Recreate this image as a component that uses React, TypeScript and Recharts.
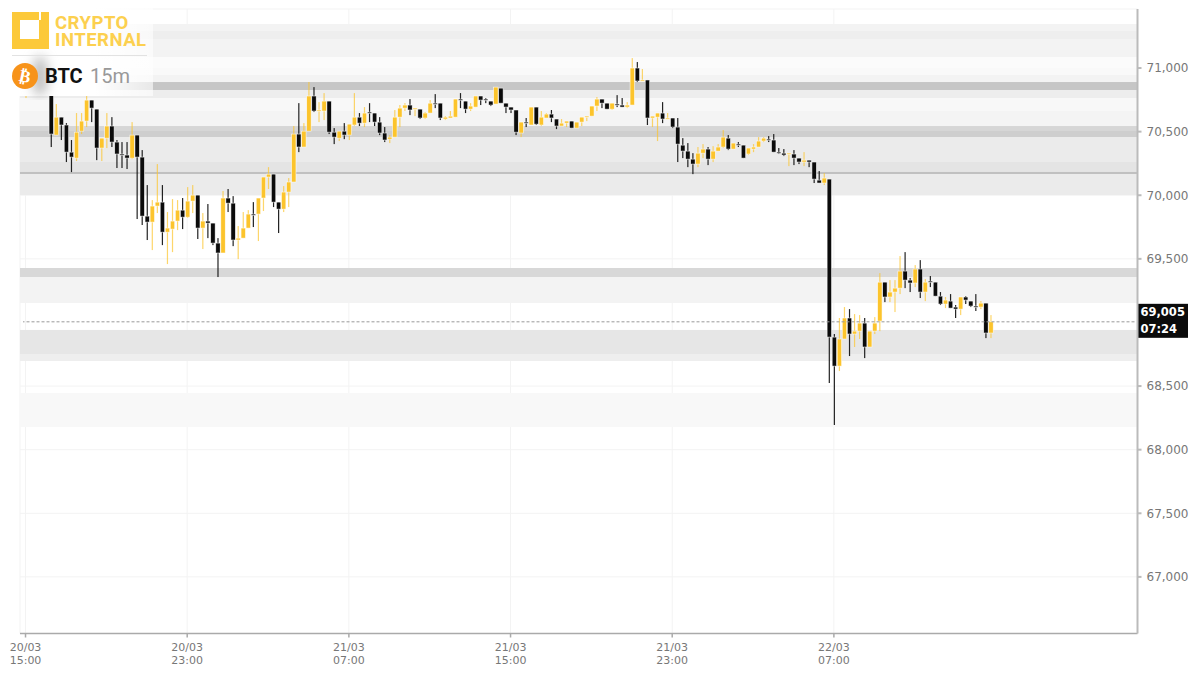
import React from 'react';
import { ComposedChart, Bar, XAxis, YAxis, CartesianGrid, ReferenceArea, ReferenceLine } from 'recharts';

// BTC 15m candles (the first five sit behind the logo panel)
const opens = [
  70811, 70858, 70842, 70858, 70890, 70921, 70473, 70614, 70552, 70339,
  70292, 70504, 70583, 70748, 70677, 70371, 70449, 70544, 70418, 70324,
  70316, 70292, 70473, 70300, 69836, 69789, 69915, 69946, 69710, 69734,
  69797, 69883, 69828, 69954, 70001, 69742, 69797, 69781, 69624, 69546,
  69978, 69938, 69648, 69663, 69742, 69852, 69852, 69978, 70143, 70166,
  69946, 69891, 70025, 70104, 70481, 70379, 70504, 70780, 70662, 70662,
  70740, 70496, 70449, 70504, 70473, 70552, 70614, 70567, 70654, 70646,
  70575, 70489, 70441, 70457, 70614, 70685, 70709, 70677, 70677, 70607,
  70646, 70724, 70724, 70599, 70607, 70614, 70756, 70740, 70677, 70693,
  70780, 70756, 70740, 70717, 70842, 70724, 70693, 70670, 70489, 70575,
  70552, 70693, 70552, 70607, 70638, 70599, 70544, 70567, 70583, 70528,
  70575, 70614, 70622, 70701, 70756, 70724, 70677, 70717, 70709, 70693,
  70709, 71000, 70898, 70906, 70607, 70614, 70646, 70599, 70607, 70536,
  70394, 70347, 70284, 70245, 70331, 70363, 70284, 70347, 70379, 70449,
  70363, 70402, 70394, 70324, 70363, 70379, 70426, 70441, 70434, 70339,
  70331, 70324, 70324, 70292, 70261, 70276, 70261, 70119, 70096, 70127,
  68885, 68657, 68870, 69035, 68909, 68932, 68995, 68807, 68932, 69011,
  69317, 69200, 69239, 69270, 69404, 69333, 69310, 69420, 69239, 69325,
  69317, 69207, 69145, 69168, 69121, 69105, 69200, 69168, 69129, 69121,
  69152, 68917,
];
const highs = [
  70874, 70874, 70906, 70937, 70984, 70952, 70717, 70614, 70567, 70434,
  70646, 70646, 70780, 70748, 70677, 70449, 70646, 70614, 70434, 70418,
  70418, 70575, 70473, 70355, 70080, 69962, 70245, 70080, 69868, 69970,
  69962, 69978, 70064, 70080, 70001, 69860, 69931, 69781, 69663, 70033,
  70049, 69993, 69758, 69868, 69883, 69946, 69978, 70143, 70221, 70166,
  69946, 70072, 70135, 70544, 70724, 70567, 70890, 70850, 70732, 70803,
  70740, 70528, 70504, 70567, 70559, 70803, 70646, 70693, 70724, 70646,
  70614, 70536, 70473, 70670, 70709, 70724, 70756, 70685, 70677, 70654,
  70748, 70795, 70724, 70622, 70662, 70756, 70803, 70740, 70724, 70780,
  70780, 70764, 70740, 70850, 70842, 70724, 70693, 70670, 70575, 70607,
  70693, 70693, 70662, 70646, 70670, 70599, 70599, 70583, 70583, 70575,
  70614, 70622, 70701, 70772, 70756, 70724, 70724, 70787, 70764, 70732,
  71078, 71047, 70992, 70906, 70622, 70646, 70732, 70646, 70607, 70607,
  70449, 70410, 70331, 70379, 70402, 70379, 70386, 70402, 70512, 70473,
  70410, 70418, 70394, 70371, 70402, 70457, 70457, 70465, 70481, 70371,
  70363, 70331, 70355, 70292, 70339, 70276, 70261, 70190, 70174, 70127,
  68909, 69035, 69121, 69105, 69066, 69058, 69035, 68932, 69042, 69388,
  69317, 69333, 69333, 69522, 69553, 69349, 69451, 69490, 69341, 69365,
  69317, 69239, 69200, 69223, 69137, 69200, 69207, 69168, 69223, 69168,
  69152, 69058,
];
const lows = [
  70764, 70811, 70811, 70827, 70842, 70379, 70473, 70434, 70261, 70182,
  70269, 70481, 70536, 70575, 70276, 70269, 70371, 70379, 70214, 70214,
  70206, 70284, 69813, 69766, 69648, 69569, 69860, 69608, 69459, 69553,
  69726, 69734, 69821, 69860, 69656, 69577, 69663, 69608, 69357, 69546,
  69868, 69600, 69498, 69663, 69742, 69750, 69640, 69876, 70049, 69907,
  69703, 69868, 69907, 70104, 70339, 70379, 70504, 70654, 70575, 70591,
  70481, 70402, 70426, 70441, 70434, 70544, 70544, 70536, 70575, 70544,
  70473, 70418, 70410, 70457, 70536, 70662, 70630, 70622, 70599, 70599,
  70646, 70685, 70591, 70591, 70607, 70614, 70685, 70646, 70662, 70693,
  70709, 70724, 70701, 70717, 70724, 70646, 70646, 70473, 70457, 70536,
  70552, 70552, 70544, 70607, 70575, 70520, 70544, 70536, 70528, 70528,
  70544, 70583, 70622, 70662, 70685, 70677, 70670, 70693, 70693, 70685,
  70709, 70890, 70898, 70552, 70536, 70426, 70567, 70599, 70528, 70261,
  70292, 70221, 70166, 70221, 70292, 70237, 70261, 70347, 70371, 70355,
  70363, 70379, 70292, 70316, 70339, 70379, 70418, 70418, 70339, 70324,
  70308, 70229, 70237, 70245, 70229, 70221, 70096, 70096, 70080, 68524,
  68194, 68618, 68870, 68736, 68807, 68870, 68720, 68807, 68909, 68932,
  69160, 69160, 69082, 69223, 69270, 69239, 69278, 69192, 69168, 69278,
  69207, 69137, 69113, 69113, 69035, 69058, 69145, 69121, 69090, 69105,
  68877, 68877,
];
const closes = [
  70842, 70827, 70874, 70906, 70952, 70481, 70614, 70552, 70339, 70300,
  70496, 70583, 70748, 70685, 70371, 70449, 70544, 70418, 70324, 70316,
  70292, 70473, 70300, 69836, 69789, 69915, 69946, 69710, 69742, 69797,
  69883, 69828, 69954, 70001, 69742, 69797, 69781, 69624, 69546, 69978,
  69938, 69648, 69663, 69742, 69852, 69844, 69978, 70143, 70166, 69946,
  69891, 70025, 70104, 70481, 70379, 70504, 70780, 70662, 70670, 70740,
  70496, 70457, 70504, 70473, 70559, 70614, 70567, 70646, 70646, 70575,
  70489, 70434, 70457, 70614, 70685, 70709, 70670, 70685, 70607, 70646,
  70724, 70717, 70607, 70614, 70622, 70756, 70748, 70677, 70701, 70780,
  70748, 70748, 70709, 70850, 70724, 70693, 70670, 70496, 70575, 70567,
  70693, 70559, 70614, 70638, 70607, 70544, 70567, 70583, 70528, 70575,
  70614, 70622, 70701, 70756, 70724, 70677, 70724, 70709, 70693, 70709,
  71000, 70898, 70906, 70607, 70622, 70646, 70599, 70607, 70536, 70402,
  70347, 70284, 70245, 70331, 70363, 70284, 70347, 70379, 70457, 70363,
  70410, 70394, 70292, 70371, 70379, 70426, 70449, 70434, 70339, 70331,
  70316, 70331, 70292, 70261, 70276, 70261, 70127, 70096, 70135, 68885,
  68657, 68870, 69035, 68909, 68932, 68995, 68807, 68932, 68995, 69317,
  69200, 69239, 69270, 69404, 69333, 69310, 69420, 69239, 69317, 69317,
  69207, 69145, 69176, 69113, 69105, 69200, 69176, 69129, 69121, 69152,
  68917, 69005,
];

// 69,000 sits under the price tag in the picture, so it gets no label
const priceTicks = [67000, 67500, 68000, 68500, 69500, 70000, 70500, 71000];
const timeTicks = ['20/03 15:00', '20/03 23:00', '21/03 07:00', '21/03 15:00', '21/03 23:00', '22/03 07:00'];

// support / resistance zones, price from and to
const zoneHighs = [71346, 71291, 71228, 71086, 71000, 70945, 70890, 70827, 70764, 70662, 70544, 70505, 70458, 70261, 70183, 70167, 69428, 69357, 68941, 68752, 68445];
const zoneLows = [71291, 71228, 71086, 71000, 70945, 70890, 70827, 70764, 70662, 70544, 70505, 70458, 70261, 70183, 70167, 70002, 69357, 69153, 68752, 68697, 68178];
const zoneFills = ['#f3f3f3', '#eeeeee', '#f3f3f3', '#fbfbfb', '#f9f9f9', '#f3f3f3', '#c6c6c6', '#ededed', '#f8f8f8', '#f4f4f4', '#d6d6d6', '#cecece', '#ebebeb', '#e4e4e4', '#c0c0c0', '#ebebeb', '#d8d8d8', '#f3f3f3', '#e6e6e6', '#eeeeee', '#f8f8f8'];

const lastPrice = 69005;
const countdown = '07:24';
const SLOTS = 220; // 15m slots on the time axis, the last ones are still empty
const AXIS_PAD = 3;

const UP = '#fcc42c';
const DOWN = '#0b0b0b';

function slotLabel(i: number): string {
  const minutes = 15 * 60 + i * 15;
  const day = 20 + Math.floor(minutes / 1440);
  const h = Math.floor(minutes / 60) % 24;
  const m = minutes % 60;
  return `${day}/03 ${String(h).padStart(2, '0')}:${String(m).padStart(2, '0')}`;
}

const rows = Array.from({ length: SLOTS }, (_, i) => ({
  time: slotLabel(i),
  open: opens[i],
  high: highs[i],
  low: lows[i],
  close: closes[i],
}));

function Candle(props: any) {
  const { x, y, width, height, payload } = props;
  if (payload.high === undefined) return null;
  const top = Math.min(y, y + height);
  const span = Math.abs(height);
  const perPrice = span / (payload.high - payload.low || 1);
  const up = payload.close >= payload.open;
  const color = up ? UP : DOWN;
  const bodyTop = top + (payload.high - Math.max(payload.open, payload.close)) * perPrice;
  const bodyH = Math.max(Math.abs(payload.close - payload.open) * perPrice, 1.2);
  const cx = x + width / 2;
  return (
    <g>
      <rect x={cx - 0.6} y={top} width={1.2} height={span} fill={color} fillOpacity={up ? 0.7 : 0.9} />
      <rect x={cx - 2.2} y={bodyTop} width={4.4} height={bodyH} fill={color} stroke="#fff" strokeWidth={0.6} strokeOpacity={0.85} />
    </g>
  );
}

// zones and the price line run past the axis padding, edge to edge of the plot
function ZoneRect({ x, y, width, height, fill }: any) {
  return <rect x={x - AXIS_PAD} y={y} width={width + AXIS_PAD * 2} height={height} fill={fill} />;
}

function PriceLine({ x1, y1, x2, y2 }: any) {
  return <line x1={x1 - AXIS_PAD} y1={y1} x2={x2 + AXIS_PAD} y2={y2} stroke="#999" strokeDasharray="3 2" />;
}

function TimeTick({ x, y, payload }: any) {
  const [date, time] = String(payload.value).split(' ');
  return (
    <text x={x} y={y} textAnchor="middle" fontFamily="DejaVu Sans" fontSize={11} fill="#777">
      <tspan x={x} dy={11}>{date}</tspan>
      <tspan x={x} dy={13}>{time}</tspan>
    </text>
  );
}

function PriceTag({ viewBox }: any) {
  const left = viewBox.x + viewBox.width;
  const mid = viewBox.y;
  return (
    <g fontFamily="DejaVu Sans" fontWeight="bold" fontSize={11.5} fill="#fff">
      <rect x={left - 0.5} y={mid - 18} width={51} height={34} fill="#0b0b0b" />
      <text>
        <tspan x={left + 3} y={mid - 5.5}>{lastPrice.toLocaleString('en-US')}</tspan>
        <tspan x={left + 3} y={mid + 11.5}>{countdown}</tspan>
      </text>
    </g>
  );
}

function Logo() {
  return (
    <svg width={160} height={100} style={{ position: 'absolute', left: 0, top: 0 }}>
      <defs>
        <linearGradient id="panelFade" x1="0" y1="0" x2="1" y2="0">
          <stop offset="0%" stopColor="#fff" stopOpacity={1} />
          <stop offset="62%" stopColor="#fff" stopOpacity={1} />
          <stop offset="100%" stopColor="#fff" stopOpacity={0.6} />
        </linearGradient>
      </defs>
      <rect x={0} y={0} width={153} height={96} fill="url(#panelFade)" />
      <ellipse cx={40} cy={76} rx={8} ry={20} fill="#888" fillOpacity={0.55} style={{ filter: 'blur(6px)' }} />
      <path d="M12 12H39V20H20V39H39V20H41V12H49V49H12Z" fill="#fcc93a" fillRule="evenodd" />
      <text fontFamily="Roboto" fontWeight="bold" fontSize={18.5} fill="#fcd04f" letterSpacing={0.5}>
        <tspan x={55} y={28.5}>CRYPTO</tspan>
        <tspan x={55} y={45.5}>INTERNAL</tspan>
      </text>
      <rect x={12} y={55} width={135} height={1} fill="#e2e2e2" />
      <circle cx={25} cy={76} r={13} fill="#f7931a" />
      <text x={25} y={82} textAnchor="middle" fontFamily="DejaVu Sans" fontWeight="bold" fontSize={17} fill="#fff" transform="rotate(12 25 76)">₿</text>
      <text x={45} y={83} fontFamily="Roboto" fontWeight="bold" fontSize={20} fill="#111">BTC</text>
      <text x={90} y={83} fontFamily="Roboto" fontSize={20} fill="#999">15m</text>
    </svg>
  );
}

export default function App() {
  return (
    <div style={{ position: 'absolute', left: 0, top: 0, width: 1200, height: 677, background: '#fff', overflow: 'hidden' }}>
      <ComposedChart width={1200} height={677} data={rows} margin={{ top: 9, right: 0, bottom: 0, left: 20 }}>
        {zoneHighs.map((h, i) => (
          <ReferenceArea key={i} y1={zoneLows[i]} y2={h} fill={zoneFills[i]} fillOpacity={1} stroke="none" shape={<ZoneRect />} />
        ))}
        <CartesianGrid stroke="#f3f3f3" strokeWidth={1} />
        <XAxis
          dataKey="time"
          ticks={timeTicks}
          interval={0}
          height={43.5}
          padding={{ left: AXIS_PAD, right: AXIS_PAD }}
          tick={<TimeTick />}
          tickSize={4}
          stroke="#aaa"
          strokeWidth={1.5}
        />
        <YAxis
          orientation="right"
          type="number"
          domain={[66555, 71464]}
          ticks={priceTicks}
          width={62.5}
          tickSize={4}
          tickMargin={5}
          tick={{ fontFamily: 'DejaVu Sans', fontSize: 12, fill: '#777' }}
          tickFormatter={(v: number) => v.toLocaleString('en-US')}
          stroke="#bbb"
          strokeWidth={2}
          allowDataOverflow
        />
        <ReferenceLine y={lastPrice} shape={<PriceLine />} label={<PriceTag />} />
        <Bar dataKey={(d: any) => (d.high === undefined ? null : [d.low, d.high])} barSize={4} shape={<Candle />} isAnimationActive={false} />
      </ComposedChart>
      <Logo />
    </div>
  );
}
